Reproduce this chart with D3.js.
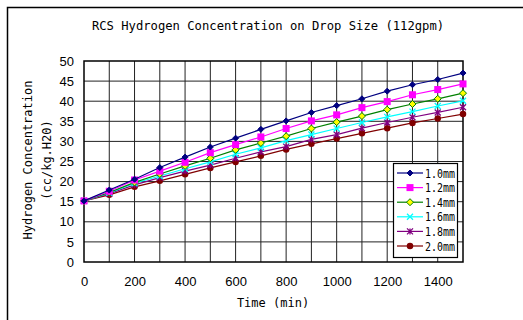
<!DOCTYPE html>
<html lang="en">
<head>
    <meta charset="utf-8">
    <title>RCS Hydrogen Concentration</title>
    <style>
        body { margin: 0; background: #fff; }
        .mono { font-family: "DejaVu Sans Mono", "Liberation Mono", monospace; }
        .tick text { font-family: "Liberation Sans", Arial, sans-serif; font-size: 13px; fill: #000; }
    </style>
</head>
<body>
    <div id="container"></div>

    <script src="https://cdn.jsdelivr.net/npm/d3@7"></script>
    <script>
        // Chart data
        const times = [0, 100, 200, 300, 400, 500, 600, 700, 800, 900, 1000, 1100, 1200, 1300, 1400, 1500];
        const seriesNames = ["1.0mm", "1.2mm", "1.4mm", "1.6mm", "1.8mm", "2.0mm"];
        const h10 = [15.2, 17.9, 20.6, 23.5, 26.1, 28.6, 30.8, 33.0, 35.1, 37.2, 38.9, 40.6, 42.5, 44.1, 45.4, 47.0];
        const h12 = [15.2, 17.6, 20.4, 22.6, 24.8, 27.2, 29.2, 31.1, 33.2, 35.1, 36.6, 38.4, 39.9, 41.6, 42.9, 44.3];
        const h14 = [15.2, 17.3, 19.8, 21.9, 23.9, 25.8, 27.9, 29.6, 31.3, 33.2, 34.8, 36.3, 37.9, 39.3, 40.6, 42.0];
        const h16 = [15.2, 17.2, 19.6, 21.4, 23.2, 24.9, 26.8, 28.4, 30.2, 31.7, 33.2, 34.7, 36.1, 37.4, 38.8, 40.1];
        const h18 = [15.2, 17.0, 19.2, 21.0, 22.6, 24.1, 25.8, 27.4, 28.7, 30.5, 31.7, 33.3, 34.7, 36.0, 37.2, 38.5];
        const h20 = [15.2, 16.7, 18.7, 20.2, 21.8, 23.4, 24.9, 26.4, 28.0, 29.4, 30.7, 32.0, 33.3, 34.6, 35.7, 36.8];
        const xTicks = [0, 200, 400, 600, 800, 1000, 1200, 1400];
        const yTicks = [0, 5, 10, 15, 20, 25, 30, 35, 40, 45, 50];

        const allValues = [h10, h12, h14, h16, h18, h20];

        // Styles for each series
        const styles = [
            { line: "#000080", fill: "#000080", stroke: "#000080", shape: "diamond", size: 5 },
            { line: "#ff00ff", fill: "#ff00ff", stroke: "#ff00ff", shape: "square", size: 7 },
            { line: "#008000", fill: "#ffff00", stroke: "#008000", shape: "diamond", size: 6 },
            { line: "#00ffff", fill: "none", stroke: "#00ffff", shape: "cross", size: 6 },
            { line: "#800080", fill: "none", stroke: "#800080", shape: "star", size: 6 },
            { line: "#800000", fill: "#800000", stroke: "#800000", shape: "circle", size: 6.5 }
        ];

        const width = 523;
        const height = 320;
        const marginTop = 61;
        const marginLeft = 84;
        const plotRight = 463;
        const plotBottom = 262;

        const svg = d3.select("#container").append("svg")
            .attr("width", width)
            .attr("height", height);

        // outer frame (runs off the right and bottom of the picture)
        svg.append("rect")
            .attr("x", 7.5).attr("y", 7.5)
            .attr("width", 540).attr("height", 340)
            .attr("fill", "none")
            .attr("stroke", "#000")
            .attr("stroke-width", 1.5);

        const x = d3.scaleLinear().domain([0, 1500]).range([marginLeft, plotRight]);
        const y = d3.scaleLinear().domain([0, 50]).range([plotBottom, marginTop]);

        // gridlines
        const grid = svg.append("g");
        grid.selectAll("line.v")
            .data(d3.range(100, 1500, 100))
            .enter().append("line")
            .attr("x1", d => x(d)).attr("x2", d => x(d))
            .attr("y1", marginTop).attr("y2", plotBottom)
            .attr("stroke", "#222").attr("stroke-width", 1);
        grid.selectAll("line.h")
            .data(yTicks.slice(1, -1))
            .enter().append("line")
            .attr("x1", marginLeft).attr("x2", plotRight)
            .attr("y1", d => y(d)).attr("y2", d => y(d))
            .attr("stroke", "#222").attr("stroke-width", 1);

        svg.append("rect")
            .attr("x", marginLeft).attr("y", marginTop)
            .attr("width", plotRight - marginLeft).attr("height", plotBottom - marginTop)
            .attr("fill", "none").attr("stroke", "#000").attr("stroke-width", 1.5);

        // axes
        const xAxis = svg.append("g")
            .attr("transform", `translate(0,${plotBottom})`)
            .call(d3.axisBottom(x).tickValues(xTicks).tickFormat(d3.format("d")).tickSize(0).tickPadding(15));
        xAxis.select(".domain").remove();

        const yAxis = svg.append("g")
            .attr("transform", `translate(${marginLeft},0)`)
            .call(d3.axisLeft(y).tickValues(yTicks).tickSize(0).tickPadding(10));
        yAxis.select(".domain").remove();

        // titles
        svg.append("text")
            .attr("class", "mono")
            .attr("x", 268).attr("y", 30)
            .attr("text-anchor", "middle")
            .attr("font-size", 12.2)
            .text("RCS Hydrogen Concentration on Drop Size (112gpm)");

        svg.append("text")
            .attr("class", "mono")
            .attr("x", 273).attr("y", 307)
            .attr("text-anchor", "middle")
            .attr("font-size", 12)
            .text("Time (min)");

        const yl = svg.append("text")
            .attr("class", "mono")
            .attr("transform", "translate(32,160) rotate(-90)")
            .attr("text-anchor", "middle")
            .attr("font-size", 12);
        yl.append("tspan").attr("x", 0).attr("dy", 0).text("Hydrogen Concentration");
        yl.append("tspan").attr("x", 0).attr("dy", 19).text("(cc/kg.H20)");

        // marker drawing
        function drawMarker(g, st) {
            const s = st.size;
            if (st.shape === "diamond") {
                const h = s / 2 + 0.5;
                g.append("path")
                    .attr("d", `M0,${-h}L${h},0L0,${h}L${-h},0Z`)
                    .attr("fill", st.fill).attr("stroke", st.stroke).attr("stroke-width", 1);
            } else if (st.shape === "square") {
                g.append("rect")
                    .attr("x", -s / 2).attr("y", -s / 2)
                    .attr("width", s).attr("height", s)
                    .attr("fill", st.fill);
            } else if (st.shape === "circle") {
                g.append("circle").attr("r", s / 2).attr("fill", st.fill);
            } else if (st.shape === "cross") {
                const h = s / 2;
                g.append("path")
                    .attr("d", `M${-h},${-h}L${h},${h}M${-h},${h}L${h},${-h}`)
                    .attr("stroke", st.stroke).attr("stroke-width", 1.3);
            } else if (st.shape === "star") {
                const h = s / 2;
                g.append("path")
                    .attr("d", `M${-h},${-h}L${h},${h}M${-h},${h}L${h},${-h}M0,${-h}L0,${h}`)
                    .attr("stroke", st.stroke).attr("stroke-width", 1.3);
            }
        }

        const line = d3.line()
            .x((d, i) => x(times[i]))
            .y(d => y(d));

        // draw series, last first so 1.0mm stays on top
        for (let k = allValues.length - 1; k >= 0; k--) {
            const st = styles[k];
            svg.append("path")
                .datum(allValues[k])
                .attr("d", line)
                .attr("fill", "none")
                .attr("stroke", st.line)
                .attr("stroke-width", 1.2);
            allValues[k].forEach((v, i) => {
                const g = svg.append("g").attr("transform", `translate(${x(times[i])},${y(v)})`);
                drawMarker(g, st);
            });
        }

        // legend
        const legend = svg.append("g");
        legend.append("rect")
            .attr("x", 393.5).attr("y", 163.5)
            .attr("width", 64).attr("height", 94)
            .attr("fill", "#fff").attr("stroke", "#000").attr("stroke-width", 1.2);
        seriesNames.forEach((name, k) => {
            const st = styles[k];
            const ly = 173 + k * 14.6;
            legend.append("line")
                .attr("x1", 397).attr("x2", 423)
                .attr("y1", ly).attr("y2", ly)
                .attr("stroke", st.line).attr("stroke-width", 1.2);
            drawMarker(legend.append("g").attr("transform", `translate(410,${ly})`), st);
            legend.append("text")
                .attr("class", "mono")
                .attr("x", 425).attr("y", ly + 4.5)
                .attr("font-size", 12)
                .attr("textLength", 30)
                .attr("lengthAdjust", "spacingAndGlyphs")
                .text(name);
        });
    </script>
</body>
</html>
